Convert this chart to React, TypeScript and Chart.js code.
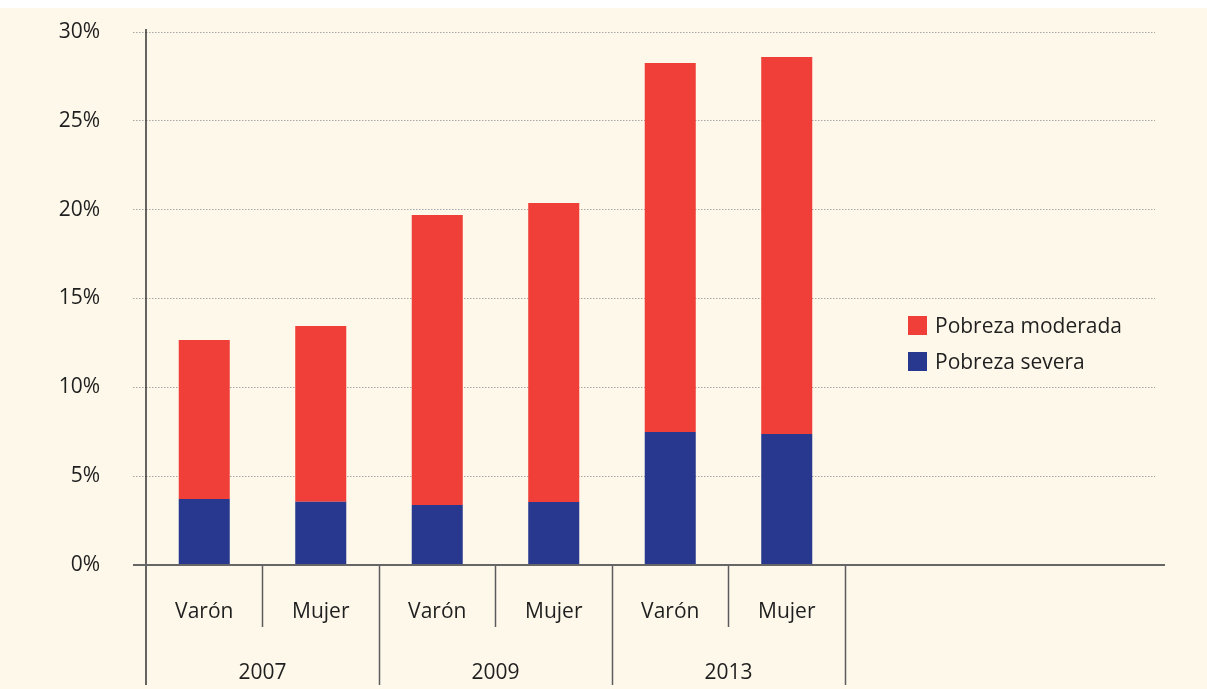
import React, { useEffect, useRef } from 'react';
import { Chart, registerables } from 'chart.js';

Chart.register(...registerables);

const categories = ['Varón', 'Mujer', 'Varón', 'Mujer', 'Varón', 'Mujer'];
const years = ['2007', '2009', '2013'];
const seriesNames = ['Pobreza moderada', 'Pobreza severa'];
const severa = [3.71, 3.56, 3.38, 3.55, 7.48, 7.37];
const moderada = [8.95, 9.89, 16.32, 16.82, 20.77, 21.22];
const yTicks = [0, 5, 10, 15, 20, 25, 30];

const RED = '#f03e38';
const BLUE = '#28388e';
const CREAM = '#fef8eb';
const TEXT = '#1f1f1f';
const FONT = "'Open Sans', 'Noto Sans', sans-serif";

const framePlugin = {
  id: 'frame',
  afterDraw(chart: any) {
    const { ctx, chartArea } = chart;
    const xs = chart.scales.x;
    const ys = chart.scales.y;
    const y0 = ys.getPixelForValue(0);
    const line = (x1: number, y1: number, x2: number, y2: number) => {
      ctx.beginPath();
      ctx.moveTo(x1, y1);
      ctx.lineTo(x2, y2);
      ctx.stroke();
    };
    ctx.save();
    // vertical axis
    ctx.strokeStyle = '#333';
    ctx.lineWidth = 1.5;
    line(chartArea.left, chartArea.top - 3, chartArea.left, y0 + 120);
    // separators
    ctx.strokeStyle = '#5c5c5c';
    for (let i = 1; i <= categories.length; i++) {
      const xi = Math.round(xs.getPixelForValue(i)) + 0.5;
      line(xi, y0, xi, y0 + (i % 2 === 1 ? 62 : 120));
    }
    // horizontal axis
    ctx.strokeStyle = '#666';
    ctx.lineWidth = 2;
    line(chartArea.left - 13, y0, chartArea.right + 10, y0);
    // labels
    ctx.fillStyle = TEXT;
    ctx.font = `21px ${FONT}`;
    ctx.textAlign = 'center';
    ctx.textBaseline = 'middle';
    categories.forEach((c, i) => ctx.fillText(c, xs.getPixelForValue(i + 0.5), y0 + 47));
    years.forEach((yr, j) => ctx.fillText(yr, xs.getPixelForValue(2 * j + 1), y0 + 108));
    ctx.restore();
  },
};

export default function App() {
  const ref = useRef<HTMLCanvasElement | null>(null);

  useEffect(() => {
    document.body.style.margin = '0';
    if (!ref.current) return;
    const chart = new Chart(ref.current, {
      type: 'bar',
      data: {
        datasets: [
          {
            label: seriesNames[1],
            data: severa.map((v, i) => ({ x: i + 0.5, y: v })),
            backgroundColor: BLUE,
            stack: 's',
          },
          {
            label: seriesNames[0],
            data: moderada.map((v, i) => ({ x: i + 0.5, y: v })),
            backgroundColor: RED,
            stack: 's',
          },
        ],
      },
      options: {
        responsive: false,
        animation: false,
        events: [],
        barPercentage: 0.438,
        categoryPercentage: 1,
        layout: { padding: { top: 24, right: 52, bottom: 124, left: 0 } },
        plugins: { legend: { display: false }, tooltip: { enabled: false } },
        scales: {
          x: {
            type: 'linear',
            display: false,
            offset: false,
            stacked: true,
            min: 0,
            max: 8.661,
            afterBuildTicks: (s: any) => {
              s.ticks = [0, 1, 2, 3, 4, 5, 6].map((v) => ({ value: v }));
            },
          },
          y: {
            stacked: true,
            min: 0,
            max: 30,
            afterBuildTicks: (s: any) => {
              s.ticks = yTicks.map((v) => ({ value: v }));
            },
            afterFit: (s: any) => {
              s.width = 146;
              s.paddingTop = 0;
              s.paddingBottom = 0;
            },
            ticks: {
              callback: (v: any) => `${v}%`,
              padding: 33,
              color: TEXT,
              font: { family: FONT, size: 21 },
            },
            grid: {
              color: '#a8a8a8',
              lineWidth: 1,
              drawTicks: true,
              tickLength: 13,
              tickBorderDash: [1.5, 1.5],
            },
            border: { display: false, dash: [1.5, 1.5] },
          },
        },
      },
      plugins: [framePlugin],
    } as any);
    return () => chart.destroy();
  }, []);

  const legendRow = (color: string, text: string, top: number) => (
    <div
      style={{
        position: 'absolute',
        left: 908,
        top,
        height: 19,
        display: 'flex',
        alignItems: 'center',
        whiteSpace: 'nowrap',
      }}
    >
      <span style={{ width: 19, height: 19, background: color, display: 'inline-block' }} />
      <span style={{ marginLeft: 8, fontFamily: FONT, fontSize: 21, color: TEXT, lineHeight: '19px' }}>
        {text}
      </span>
    </div>
  );

  return (
    <div style={{ position: 'relative', width: 1207, height: 689, background: '#ffffff', overflow: 'hidden' }}>
      <div style={{ position: 'absolute', left: 0, top: 8, width: 1207, height: 681, background: CREAM }}>
        <canvas ref={ref} width={1207} height={681} style={{ display: 'block' }} />
      </div>
      {legendRow(RED, seriesNames[0], 316)}
      {legendRow(BLUE, seriesNames[1], 352)}
    </div>
  );
}
